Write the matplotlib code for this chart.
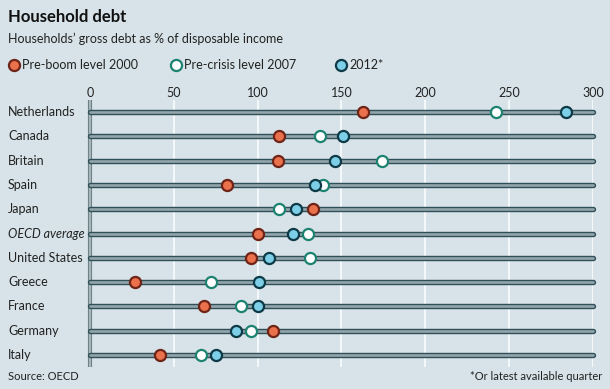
import matplotlib.pyplot as plt

countries = ["Netherlands", "Canada", "Britain", "Spain", "Japan", "OECD average",
             "United States", "Greece", "France", "Germany", "Italy"]
level_2000 = [163, 113, 112, 82, 133, 100, 96, 27, 68, 109, 42]
level_2007 = [242, 137, 174, 139, 113, 130, 131, 72, 90, 96, 66]
level_2012 = [284, 151, 146, 134, 123, 121, 107, 101, 100, 87, 75]
ticks = [0, 50, 100, 150, 200, 250, 300]

BG = "#d7e3e8"
BAR_EDGE = "#2f5058"
BAR_FILL = "#94a6ab"

plt.rcParams["font.family"] = ["Lato", "DejaVu Sans"]

fig = plt.figure(figsize=(6.10, 3.89), dpi=100, facecolor=BG)
ax = fig.add_axes([90 / 610, 1 - 367 / 389, 503 / 610, 267 / 389])
ax.set_facecolor(BG)
ax.set_xlim(0, 300)
ax.set_ylim(len(countries) - 0.5, -0.5)

# white gridlines
for t in ticks[1:]:
    ax.axvline(t, color="white", lw=1.1, zorder=1)
# thick axis line at zero
ax.plot([0, 0], [-0.5, len(countries) - 0.5], color="#6f8288", lw=3.0,
        solid_capstyle="butt", zorder=2, clip_on=False)
ax.plot([0, 0], [-0.5, len(countries) - 0.5], color="#a9b8bc", lw=1.4,
        solid_capstyle="butt", zorder=2, clip_on=False)

for i, c in enumerate(countries):
    ax.plot([0, 300], [i, i], color=BAR_EDGE, lw=3.9, solid_capstyle="round",
            zorder=3, clip_on=False)
    ax.plot([0, 300], [i, i], color=BAR_FILL, lw=1.9, solid_capstyle="round",
            zorder=3, clip_on=False)

ys = range(len(countries))
ms, mew = 8, 1.6
ax.plot(level_2000, ys, "o", ms=ms, mfc="#ea714c", mec="#6e2417", mew=mew,
        ls="none", zorder=5, clip_on=False)
ax.plot(level_2007, ys, "o", ms=ms, mfc="white", mec="#1d8371", mew=mew,
        ls="none", zorder=5, clip_on=False)
ax.plot(level_2012, ys, "o", ms=ms, mfc="#7ccfe6", mec="#0e3947", mew=mew,
        ls="none", zorder=6, clip_on=False)

ax.set_xticks(ticks)
ax.set_xticklabels([str(t) for t in ticks], fontsize=9, color="#222222")
ax.xaxis.tick_top()
ax.tick_params(axis="x", length=0, pad=1)
ax.set_yticks([])
for s in ax.spines.values():
    s.set_visible(False)

for i, c in enumerate(countries):
    fig.text(8 / 610, ax.transData.transform((0, i))[1] / 389, c,
             fontsize=9, color="#222222", va="center", ha="left",
             style="italic" if c == "OECD average" else "normal")

fig.text(8 / 610, 1 - 17 / 389, "Household debt", fontsize=12, fontweight="bold",
         color="#111111", va="center")
fig.text(8 / 610, 1 - 39 / 389, "Households\u2019 gross debt as % of disposable income",
         fontsize=9, color="#222222", va="center")

legend_items = [(14, "Pre-boom level 2000", "#ea714c", "#6e2417"),
                (176, "Pre-crisis level 2007", "white", "#1d8371"),
                (341, "2012*", "#7ccfe6", "#0e3947")]
for x, lab, fc, ec in legend_items:
    fig.lines.append(plt.Line2D([x / 610], [1 - 65 / 389], marker="o", ms=ms,
                                mfc=fc, mec=ec, mew=mew, ls="none",
                                transform=fig.transFigure))
    fig.text((x + 8) / 610, 1 - 65 / 389, lab, fontsize=9, color="#222222",
             va="center")

fig.text(8 / 610, 1 - 377 / 389, "Source: OECD", fontsize=8, color="#222222",
         va="center")
fig.text(602 / 610, 1 - 376 / 389, "*Or latest available quarter", fontsize=8,
         color="#222222", va="center", ha="right")

fig.savefig("out.png", dpi=100, facecolor=BG)
